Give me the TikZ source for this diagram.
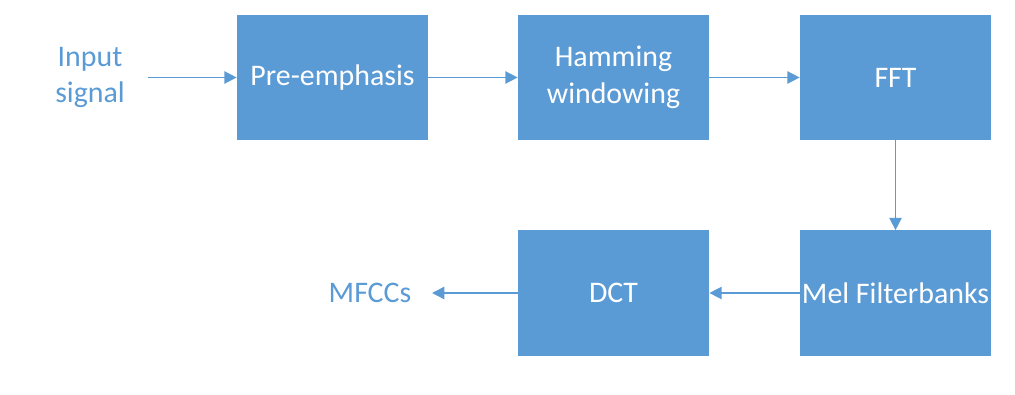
\documentclass[tikz,border=0pt]{standalone}
\usepackage{fontspec}
\setmainfont{Carlito}
\usetikzlibrary{arrows.meta}
\definecolor{boxblue}{HTML}{5B9BD5}

\begin{document}
\begin{tikzpicture}[every node/.style={font=\fontsize{17}{21}\selectfont},
    block/.style={fill=boxblue,text=white,minimum width=3.82cm,minimum height=2.5cm,align=center,inner sep=1pt},
    lbl/.style={text=boxblue,align=center},
    flow/.style={draw=boxblue,line width=0.85pt,-{Triangle[length=7pt,width=7pt]}}]
    \useasboundingbox (0,0) rectangle (20.3,7.88);
    %top row
    \node[lbl] (in) at (1.8,6.33) {Input\\signal};
    \coordinate (inend) at (2.96,6.33);
    \node[block] (pre) at (6.65,6.33) {Pre-emphasis};
    \node[block] (ham) at (12.27,6.33) {Hamming\\windowing};
    \node[block] (fft) at (17.91,6.33) {FFT};
    %bottom row
    \node[block] (mel) at (17.91,2.02) {Mel Filterbanks};
    \node[block] (dct) at (12.27,2.02) {DCT};
    \node[lbl] (out) at (7.4,2.02) {MFCCs};
    \coordinate (outend) at (8.64,2.02);
    \draw (inend) edge[flow] (pre) ;
    \draw (pre) edge[flow] (ham) ;
    \draw (ham) edge[flow] (fft) ;
    \draw (fft) edge[flow] (mel) ;
    \draw (mel) edge[flow] (dct) ;
    \draw (dct) edge[flow] (outend) ;
\end{tikzpicture}
\end{document}
